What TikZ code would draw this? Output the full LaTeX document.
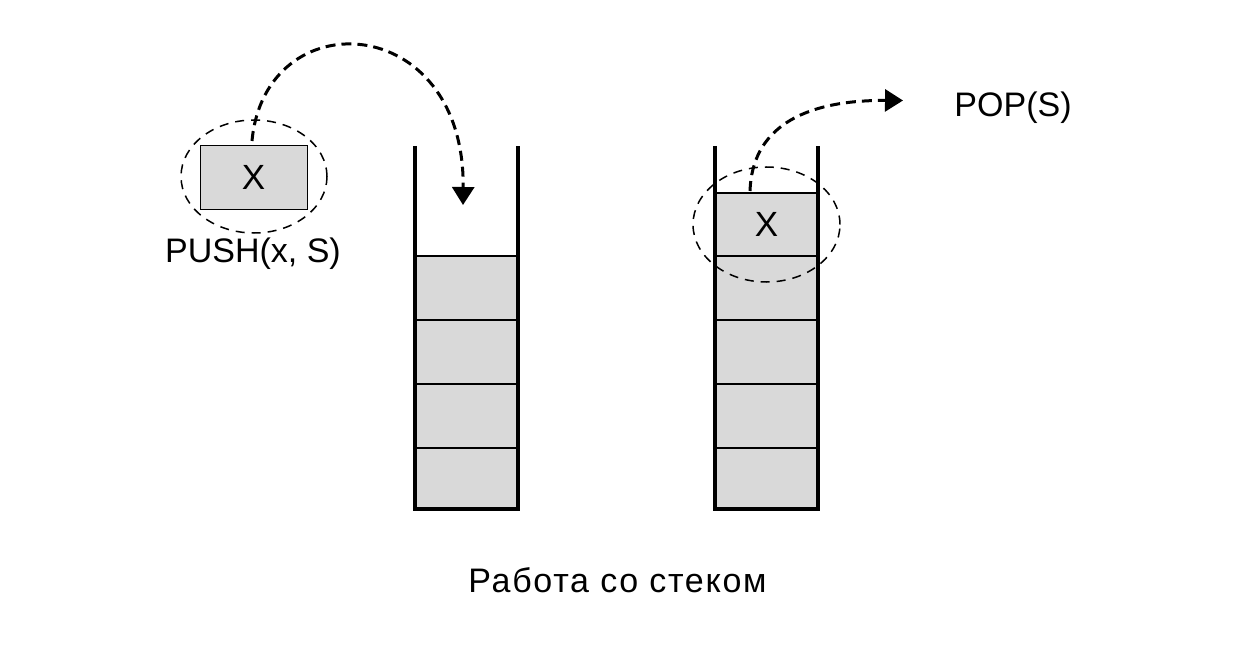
\documentclass[tikz,border=0pt]{standalone}
\usepackage{fontspec}
\setmainfont{Liberation Sans}
\usetikzlibrary{shapes.geometric,arrows.meta}
\definecolor{cellgray}{HTML}{D9D9D9}
\begin{document}
\begin{tikzpicture}[x=1pt,y=-1pt,
  txt/.style={font=\fontsize{34}{40}\selectfont,inner sep=0pt},
  cell/.style={draw=black,line width=1.5pt,fill=cellgray,minimum width=103pt,inner sep=0pt,font=\fontsize{35}{40}\selectfont},
  xbox/.style={draw=black,line width=1pt,fill=cellgray,minimum width=107pt,minimum height=63pt,inner sep=0pt,font=\fontsize{35}{40}\selectfont},
  ring/.style={ellipse,draw=black,line width=1.5pt,dash pattern=on 9pt off 7pt,inner sep=0pt},
  wall/.style={line width=4pt,line join=miter,line cap=butt},
  flow/.style={line width=3pt,dash pattern=on 10pt off 6pt,-{Triangle[length=18pt,width=22pt]}}
]
\useasboundingbox (0,0) rectangle (1236,647);

% left stack
\node[cell,minimum height=64pt] (L1) at (466.5,288) {};
\node[cell,minimum height=64pt] (L2) at (466.5,352) {};
\node[cell,minimum height=64pt] (L3) at (466.5,416) {};
\node[cell,minimum height=61pt] (L4) at (466.5,478.5) {};
\draw[wall] (415,146) -- (415,509) -- (518,509) -- (518,146);

% right stack
\node[cell,minimum height=63pt] (R0) at (766.5,224.5) {X};
\node[cell,minimum height=64pt] (R1) at (766.5,288) {};
\node[cell,minimum height=64pt] (R2) at (766.5,352) {};
\node[cell,minimum height=64pt] (R3) at (766.5,416) {};
\node[cell,minimum height=61pt] (R4) at (766.5,478.5) {};
\draw[wall] (715,146) -- (715,509) -- (818,509) -- (818,146);

% element to push
\node[xbox] (xL) at (253.5,177.5) {X};
\node[ring,minimum width=146pt,minimum height=113pt] (eL) at (254,176.5) {};
\node[ring,minimum width=147pt,minimum height=115pt] (eR) at (766.5,224.5) {};

% labels
\node[txt,anchor=base] (push) at (253,262) {PUSH(x, S)};
\node[txt,anchor=base] (pop) at (1013,116.5) {POP(S)};
\node[txt,anchor=base] (cap) at (617.5,592) {\addfontfeature{LetterSpace=5}Работа со стеком};

% arrows
\coordinate (pushStart) at (252,141);
\coordinate (pushEnd) at (463,205);
\coordinate (popStart) at (750,191);
\coordinate (popEnd) at (903,100.5);
\draw[flow] (pushStart) .. controls (265,0) and (465,10) .. (pushEnd);
\draw[flow] (popStart) .. controls (752,130) and (800,100) .. (popEnd);
\end{tikzpicture}
\end{document}
